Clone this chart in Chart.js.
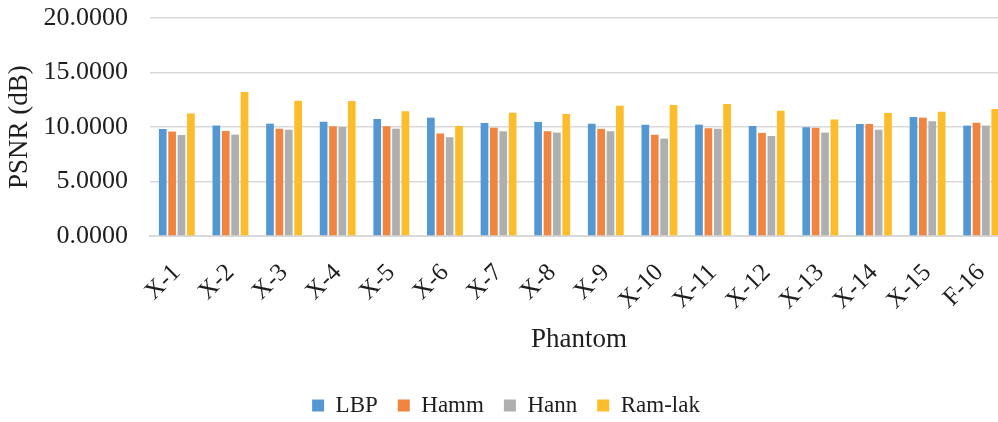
<!DOCTYPE html>
<html>
<head>
<meta charset="utf-8">
<script src="https://cdn.jsdelivr.net/npm/chart.js@4/dist/chart.umd.min.js"></script>
<style>
  html, body { margin: 0; padding: 0; background: #fff; overflow: hidden; }
  #wrap { position: relative; width: 1012px; height: 422px; }
</style>
</head>
<body>
<div id="wrap"><canvas id="chart"></canvas></div>
<script>
// Phantom names along the x axis
const phantoms = ['X-1','X-2','X-3','X-4','X-5','X-6','X-7','X-8','X-9','X-10','X-11','X-12','X-13','X-14','X-15','F-16'];

// PSNR (dB) per reconstruction method
const lbp    = [9.83, 10.13, 10.31, 10.49, 10.74, 10.86, 10.37, 10.47, 10.31, 10.22, 10.22, 10.10,  9.97, 10.28, 10.92, 10.13];
const hamm   = [9.58,  9.64,  9.85, 10.06, 10.06,  9.40,  9.94,  9.61,  9.83,  9.30,  9.88,  9.46,  9.94, 10.28, 10.86, 10.40];
const hann   = [9.28,  9.30,  9.76, 10.01,  9.85,  9.06,  9.61,  9.49,  9.61,  8.94,  9.85,  9.18,  9.49,  9.76, 10.52, 10.13];
const ramLak = [11.25, 13.21, 12.42, 12.39, 11.44, 10.10, 11.32, 11.20, 11.96, 12.02, 12.11, 11.50, 10.68, 11.29, 11.41, 11.66];

// y-axis ticks
const yTicks = [0, 5, 10, 15, 20];

const serif = '"Liberation Serif", "Times New Roman", serif';
const textColor = '#1e1e1e';
const gridColor = '#d9d9d9';

const series = [
  { label: 'LBP',     data: lbp,    color: '#5498d3' },
  { label: 'Hamm',    data: hamm,   color: '#f1843e' },
  { label: 'Hann',    data: hann,   color: '#afafb2' },
  { label: 'Ram-lak', data: ramLak, color: '#fdbd2a' }
];

new Chart(document.getElementById('chart'), {
  type: 'bar',
  data: {
    labels: phantoms,
    datasets: series.map(s => ({
      label: s.label,
      data: s.data,
      backgroundColor: s.color,
      borderWidth: 0,
      barPercentage: 0.82,
      categoryPercentage: 0.7
    }))
  },
  options: {
    responsive: true,
    maintainAspectRatio: false,
    animation: false,
    layout: { padding: { left: 4, right: 4, top: 18, bottom: -5 } },
    plugins: {
      tooltip: { enabled: false },
      legend: {
        position: 'bottom',
        labels: {
          boxWidth: 12,
          boxHeight: 12,
          padding: 20,
          color: textColor,
          font: { family: serif, size: 23 }
        }
      }
    },
    scales: {
      x: {
        afterFit: scale => {
          scale.paddingLeft = 0;
          scale.paddingRight = 0;
        },
        grid: { display: false, drawTicks: false },
        border: { color: gridColor, width: 2 },
        ticks: {
          color: textColor,
          font: { family: serif, size: 25 },
          minRotation: 45,
          maxRotation: 45,
          padding: 22,
          autoSkip: false
        },
        title: {
          display: true,
          text: 'Phantom',
          color: textColor,
          font: { family: serif, size: 27 },
          padding: { top: -14, bottom: 18 }
        }
      },
      y: {
        min: yTicks[0],
        max: yTicks[yTicks.length - 1],
        afterBuildTicks: scale => { scale.ticks = yTicks.map(v => ({ value: v })); },
        afterFit: scale => {
          scale.width = 146;
          scale.paddingTop = 0;
          scale.paddingBottom = 0;
        },
        grid: { color: gridColor, lineWidth: 1.5, drawTicks: false },
        border: { display: false },
        ticks: {
          color: textColor,
          font: { family: serif, size: 26 },
          padding: 22,
          callback: v => Number(v).toFixed(4)
        },
        title: {
          display: true,
          text: 'PSNR (dB)',
          color: textColor,
          font: { family: serif, size: 27 },
          padding: { top: 0, bottom: 0 }
        }
      }
    }
  }
});
</script>
</body>
</html>
